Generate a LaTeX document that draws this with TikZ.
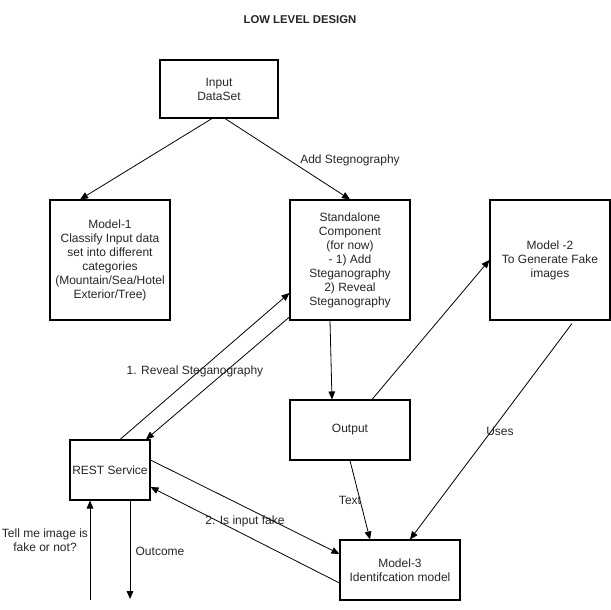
\documentclass[tikz,border=0pt]{standalone}
\usepackage{fontspec}
\setmainfont{Liberation Sans}
\usetikzlibrary{arrows.meta}
\begin{document}
\begin{tikzpicture}[x=0.75pt,y=-0.75pt,
  every node/.style={font=\fontsize{9}{10.5}\selectfont,text=black!85},
  blockbox/.style={draw,line width=0.8pt,align=center,inner sep=0pt},
  conn/.style={line width=0.6pt,-{Triangle[length=6pt,width=5pt]}},
  lbl/.style={align=center,inner sep=1pt}]
\useasboundingbox (0,0) rectangle (611,610);
% title
\node[font=\bfseries\fontsize{8.5}{10}\selectfont] (title) at (300,20) {LOW LEVEL DESIGN};
% blocks
\node[blockbox,minimum width=118*0.75pt,minimum height=58*0.75pt] (input) at (219,89) {Input\\DataSet};
\node[blockbox,minimum width=120*0.75pt,minimum height=120*0.75pt] (m1) at (110,260) {Model-1\\Classify Input data\\set into different\\categories\\(Mountain/Sea/Hotel\\Exterior/Tree)};
\node[blockbox,minimum width=120*0.75pt,minimum height=120*0.75pt] (sa) at (350,260) {Standalone\\Component\\(for now)\\- 1) Add\\Steganography\\2) Reveal\\Steganography};
\node[blockbox,minimum width=120*0.75pt,minimum height=120*0.75pt] (m2) at (550,260) {Model -2\\To Generate Fake\\images};
\node[blockbox,minimum width=120*0.75pt,minimum height=60*0.75pt] (out) at (350,430) {Output};
\node[blockbox,minimum width=80*0.75pt,minimum height=60*0.75pt] (rest) at (110,470) {REST Service};
\node[blockbox,minimum width=120*0.75pt,minimum height=60*0.75pt] (m3) at (400,570) {Model-3\\Identifcation model};
% free ends of the external arrows
\coordinate (reqin) at (90,600);
\coordinate (resout) at (130,599);
% connectors
\draw[conn] ([xshift=-7*0.75pt]input.south) -- ([xshift=-30*0.75pt]m1.north);
\draw[conn] ([xshift=6*0.75pt]input.south) -- (sa.north);
\node[lbl] (addlbl) at (350,160) {Add Stegnography};
\draw[conn] ([xshift=10*0.75pt]rest.north) -- ([yshift=-33*0.75pt]sa.west);
\draw[conn] ([yshift=-57*0.75pt]sa.west) -- ([xshift=36*0.75pt]rest.north);
\node[lbl] (revlbl) at (195,371) {1. Reveal Steganography};
\draw[conn] ([xshift=-20*0.75pt]sa.south) -- ([xshift=-18*0.75pt]out.north);
\draw[conn] ([xshift=22*0.75pt]out.north) -- (m2.west);
\draw[conn] ([xshift=22*0.75pt,yshift=-3*0.75pt]m2.south) -- ([xshift=10*0.75pt]m3.north);
\node[lbl] (useslbl) at (500,431) {Uses};
\draw[conn] (out.south) -- ([xshift=-30*0.75pt]m3.north);
\node[lbl] (textlbl) at (350,500) {Text};
\draw[conn] ([yshift=10*0.75pt]rest.east) -- ([yshift=16*0.75pt]m3.west);
\draw[conn] ([yshift=-13*0.75pt]m3.west) -- ([yshift=-17*0.75pt]rest.east);
\node[lbl] (fakelbl) at (245,521) {2. Is input fake};
\draw[conn] (reqin) -- (reqin |- rest.south);
\draw[conn] (resout |- rest.south) -- (resout);
\node[lbl] (asklbl) at (45,540) {Tell me image is\\fake or not?};
\node[lbl] (outclbl) at (160,551) {Outcome};
\end{tikzpicture}
\end{document}
